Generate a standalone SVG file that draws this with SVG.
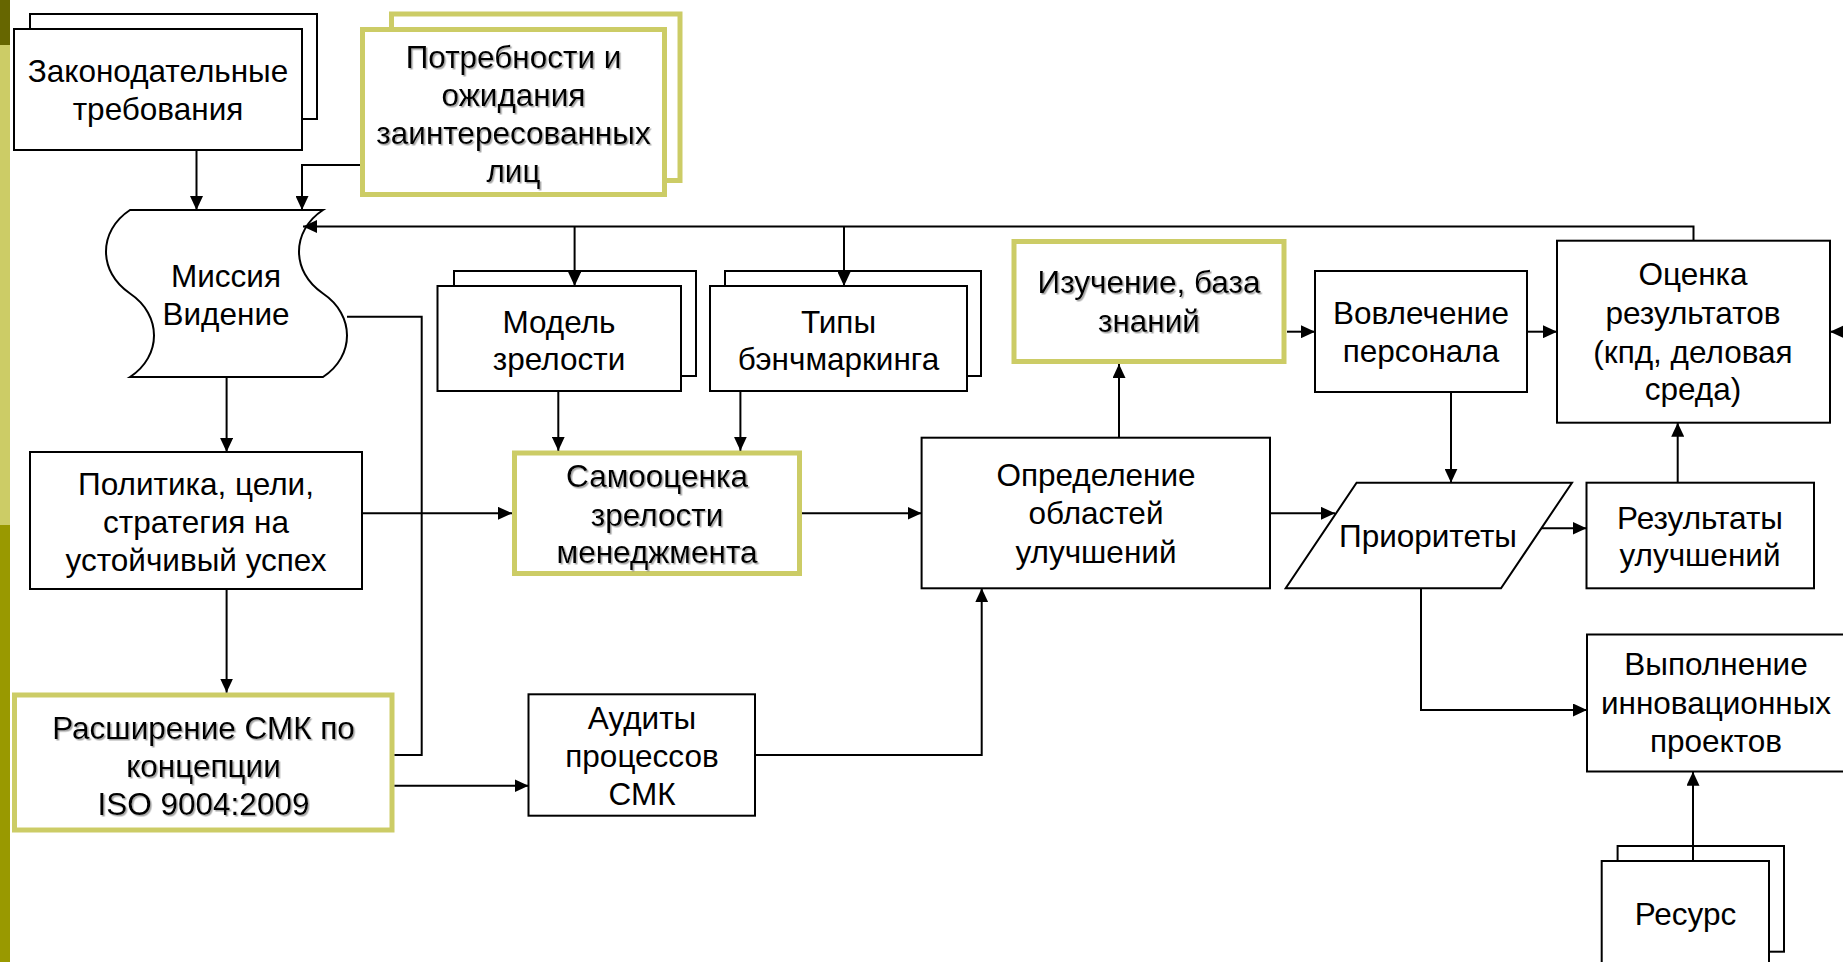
<svg xmlns="http://www.w3.org/2000/svg" width="1843" height="962" viewBox="0 0 1843 962">
<style>
.b{fill:#fff;stroke:#000;stroke-width:2}
.y{fill:#fff;stroke:#CCCC66;stroke-width:5}
.t{font-family:"Liberation Sans",Arial,sans-serif;font-size:31.5px;fill:#000;text-anchor:middle}
.s{filter:url(#sh)}
.c{fill:none;stroke:#000;stroke-width:2}
.a{marker-end:url(#ar)}
</style>
<defs>
<marker id="ar" markerUnits="userSpaceOnUse" markerWidth="15" markerHeight="13" refX="14" refY="6.5" orient="auto">
<path d="M0,0 L14,6.5 L0,13 z" fill="#000"/>
</marker>
<filter id="sh" x="-5%" y="-20%" width="110%" height="140%">
<feDropShadow dx="1.5" dy="1.5" stdDeviation="0.7" flood-color="#808080" flood-opacity="0.7"/>
</filter>
</defs>
<rect width="1843" height="962" fill="#fff"/>
<rect x="0" y="0" width="10" height="45" fill="#666600"/>
<rect x="0" y="45" width="10" height="480" fill="#CCCC66"/>
<rect x="0" y="525" width="10" height="437" fill="#999900"/>

<g id="zakon">
<rect class="b" x="30" y="14" width="287" height="105"/>
<rect class="b" x="14" y="29" width="288" height="121"/>
<text class="t"><tspan x="158" y="82">Законодательные</tspan><tspan x="158" y="120">требования</tspan></text>
</g>

<g id="potrebnosti">
<rect class="y" x="391.5" y="14" width="288.5" height="166.5"/>
<rect class="y" x="362.5" y="29.5" width="302" height="165"/>
<text class="t s"><tspan x="513.5" y="68">Потребности и</tspan><tspan x="513.5" y="106">ожидания</tspan><tspan x="513.5" y="144">заинтересованных</tspan><tspan x="513.5" y="182">лиц</tspan></text>
</g>

<g id="missiya">
<path class="b" d="M130,210 H323 C291,231 291,272 323,293.5 C355,315 355,356 323,377 H130 C162,356 162,315 130,293.5 C98,272 98,231 130,210 Z"/>
<text class="t"><tspan x="226" y="287">Миссия</tspan><tspan x="226" y="325">Видение</tspan></text>
</g>

<g id="model">
<rect class="b" x="454" y="271" width="242" height="105"/>
<rect class="b" x="437.5" y="286" width="243.5" height="105"/>
<text class="t"><tspan x="559" y="333">Модель</tspan><tspan x="559" y="370">зрелости</tspan></text>
</g>

<g id="tipy">
<rect class="b" x="725" y="271" width="256" height="105"/>
<rect class="b" x="710" y="286" width="257" height="105"/>
<text class="t"><tspan x="838.5" y="333">Типы</tspan><tspan x="838.5" y="370">бэнчмаркинга</tspan></text>
</g>

<g id="izuchenie">
<rect class="y" x="1014" y="241.5" width="270" height="120"/>
<text class="t s"><tspan x="1149" y="293">Изучение, база</tspan><tspan x="1149" y="331.5">знаний</tspan></text>
</g>

<g id="vovlechenie">
<rect class="b" x="1315" y="271" width="212" height="121"/>
<text class="t"><tspan x="1421" y="324">Вовлечение</tspan><tspan x="1421" y="361.5">персонала</tspan></text>
</g>

<g id="otsenka">
<rect class="b" x="1557" y="240.7" width="273" height="182"/>
<text class="t"><tspan x="1693" y="285">Оценка</tspan><tspan x="1693" y="324">результатов</tspan><tspan x="1693" y="362.5">(кпд, деловая</tspan><tspan x="1693" y="400">среда)</tspan></text>
</g>

<g id="politika">
<rect class="b" x="30" y="452" width="332" height="137"/>
<text class="t"><tspan x="196" y="495">Политика, цели,</tspan><tspan x="196" y="533">стратегия на</tspan><tspan x="196" y="570.5">устойчивый успех</tspan></text>
</g>

<g id="samootsenka">
<rect class="y" x="514.5" y="453" width="285" height="120.5"/>
<text class="t s"><tspan x="657" y="487">Самооценка</tspan><tspan x="657" y="526">зрелости</tspan><tspan x="657" y="563">менеджмента</tspan></text>
</g>

<g id="opredelenie">
<rect class="b" x="921.6" y="437.7" width="348.4" height="150.6"/>
<text class="t"><tspan x="1096" y="486">Определение</tspan><tspan x="1096" y="524">областей</tspan><tspan x="1096" y="562.5">улучшений</tspan></text>
</g>

<g id="prioritety">
<polygon class="b" points="1356.6,482.7 1572,482.7 1501,588.3 1285.7,588.3"/>
<text class="t"><tspan x="1428" y="546.5">Приоритеты</tspan></text>
</g>

<g id="rezultaty">
<rect class="b" x="1586.5" y="482.7" width="227.5" height="105.6"/>
<text class="t"><tspan x="1700" y="528.5">Результаты</tspan><tspan x="1700" y="566">улучшений</tspan></text>
</g>

<g id="rasshirenie">
<rect class="y" x="14.5" y="695" width="377.5" height="135"/>
<text class="t s"><tspan x="203.5" y="738.5">Расширение СМК по</tspan><tspan x="203.5" y="777">концепции</tspan><tspan x="203.5" y="815">ISO 9004:2009</tspan></text>
</g>

<g id="audity">
<rect class="b" x="528.5" y="694.3" width="226.5" height="121.4"/>
<text class="t"><tspan x="642" y="728.5">Аудиты</tspan><tspan x="642" y="767">процессов</tspan><tspan x="642" y="805">СМК</tspan></text>
</g>

<g id="vypolnenie">
<rect class="b" x="1587" y="634.5" width="270" height="137"/>
<text class="t"><tspan x="1716" y="675">Выполнение</tspan><tspan x="1716" y="714">инновационных</tspan><tspan x="1716" y="752">проектов</tspan></text>
</g>

<g id="resurs">
<rect class="b" x="1617.6" y="846" width="166.4" height="105.7"/>
<rect class="b" x="1601.7" y="861" width="167.3" height="120"/>
<text class="t"><tspan x="1685.5" y="925">Ресурс</tspan></text>
</g>

<g id="connectors">
<path class="c a" d="M196.5,150 V210"/>
<path class="c a" d="M360,165 H302 V210"/>
<path class="c a" d="M1693.5,240.7 V226.5 H303"/>
<path class="c a" d="M574.6,226.5 V286"/>
<path class="c a" d="M844,226.5 V286"/>
<path class="c a" d="M226.6,377 V452"/>
<path class="c a" d="M226.6,589 V692.5"/>
<path class="c a" d="M362,513.3 H512"/>
<path class="c" d="M347,316.7 H421.7 V755 H394.5"/>
<path class="c a" d="M394.5,785.7 H528.5"/>
<path class="c a" d="M755,755 H981.7 V588.3"/>
<path class="c a" d="M558.3,391 V450.7"/>
<path class="c a" d="M740.4,391 V450.7"/>
<path class="c a" d="M802,513.3 H921.6"/>
<path class="c a" d="M1119,437.7 V364"/>
<path class="c a" d="M1287,331.7 H1315"/>
<path class="c a" d="M1527,331.7 H1557"/>
<path class="c a" d="M1845,331.7 H1830"/>
<path class="c a" d="M1451,392 V482.7"/>
<path class="c a" d="M1270,513.3 H1335"/>
<path class="c a" d="M1541,528.3 H1586.5"/>
<path class="c a" d="M1677.7,482.7 V422.7"/>
<path class="c a" d="M1421,588.3 V710 H1587"/>
<path class="c a" d="M1693,861 V771.7"/>
</g>
</svg>
